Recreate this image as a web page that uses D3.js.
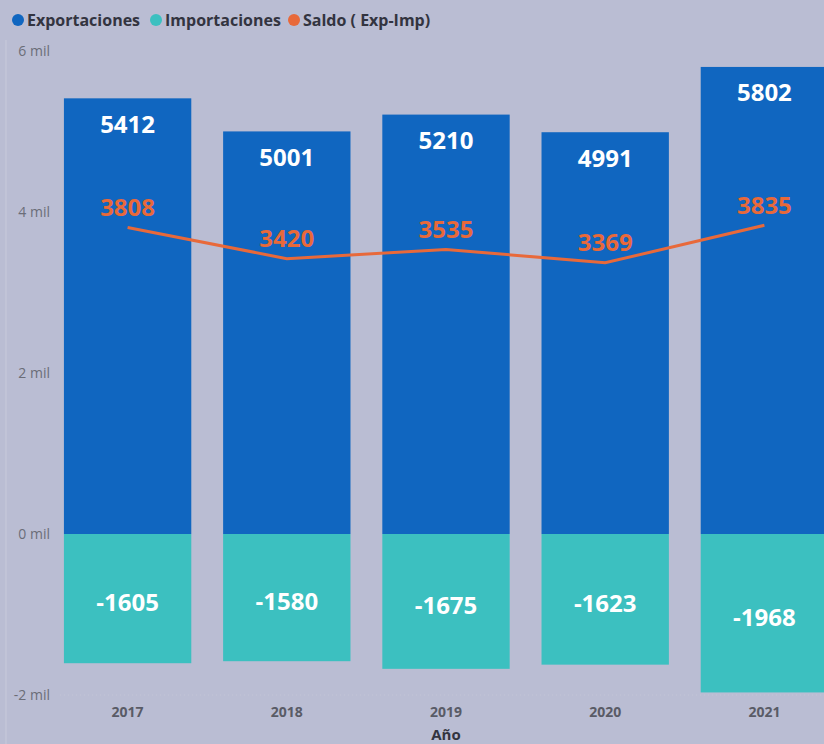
<!DOCTYPE html>
<html><head><meta charset="utf-8">
<script src="https://cdn.jsdelivr.net/npm/d3@7"></script>
<style>
html,body{margin:0;padding:0;background:#babdd3;}
svg{display:block;font-family:"Open Sans","Noto Sans",sans-serif;}
</style></head>
<body>
<svg id="chart" width="824" height="744"></svg>
<script>
const years = ["2017","2018","2019","2020","2021"];
const exportaciones = [5412, 5001, 5210, 4991, 5802];
const importaciones = [-1605, -1580, -1675, -1623, -1968];
const saldo = [3808, 3420, 3535, 3369, 3835];
const yTicks = [-2000, 0, 2000, 4000, 6000];
const legendItems = [
  {name:"Exportaciones", color:"#1066c0"},
  {name:"Importaciones", color:"#3cc0c0"},
  {name:"Saldo ( Exp-Imp)", color:"#e8693a"}
];

const svg = d3.select("#chart");
const x = d3.scaleBand().domain(years).range([48, 844]).paddingInner(0.2).paddingOuter(0.1);
const y = d3.scaleLinear().domain([-2000, 6000]).range([695, 51]);

// faint left line
svg.append("line").attr("x1",6).attr("x2",6).attr("y1",40).attr("y2",744)
  .attr("stroke","#c8cadb").attr("stroke-width",1);

// y tick labels
svg.append("g").selectAll("text").data(yTicks).join("text")
  .attr("x", 50).attr("y", d => y(d)).attr("dy","0.35em")
  .attr("text-anchor","end").attr("fill","#6b6d78").attr("font-size",14)
  .text(d => (d/1000) + " mil");

// dotted grid at -2 mil
svg.append("line").attr("x1",60).attr("x2",824).attr("y1",y(-2000)).attr("y2",y(-2000))
  .attr("stroke","#c3c5d6").attr("stroke-dasharray","1,3");

// export bars
svg.append("g").selectAll("rect").data(years).join("rect")
  .attr("x", d => x(d)).attr("width", x.bandwidth())
  .attr("y", (d,i) => y(exportaciones[i])).attr("height", (d,i) => y(0) - y(exportaciones[i]))
  .attr("fill", "#1066c0");

// import bars
svg.append("g").selectAll("rect").data(years).join("rect")
  .attr("x", d => x(d)).attr("width", x.bandwidth())
  .attr("y", y(0)).attr("height", (d,i) => y(importaciones[i]) - y(0))
  .attr("fill", "#3cc0c0");

// saldo line
const line = d3.line().x((d,i) => x(years[i]) + x.bandwidth()/2).y(d => y(d));
svg.append("path").datum(saldo).attr("d", line)
  .attr("fill","none").attr("stroke","#e8693a").attr("stroke-width",3);

// export labels
svg.append("g").selectAll("text").data(years).join("text")
  .attr("x", d => x(d) + x.bandwidth()/2)
  .attr("y", (d,i) => y(exportaciones[i]) + 26).attr("dy","0.35em")
  .attr("text-anchor","middle").attr("fill","#ffffff").attr("font-weight","bold").attr("font-size",24)
  .text((d,i) => exportaciones[i]);

// import labels
svg.append("g").selectAll("text").data(years).join("text")
  .attr("x", d => x(d) + x.bandwidth()/2)
  .attr("y", (d,i) => (y(0) + y(importaciones[i]))/2 + 4).attr("dy","0.35em")
  .attr("text-anchor","middle").attr("fill","#ffffff").attr("font-weight","bold").attr("font-size",24)
  .text((d,i) => importaciones[i]);

// saldo labels
svg.append("g").selectAll("text").data(years).join("text")
  .attr("x", d => x(d) + x.bandwidth()/2)
  .attr("y", (d,i) => y(saldo[i]) - 20).attr("dy","0.35em")
  .attr("text-anchor","middle").attr("fill","#e8693a").attr("font-weight","bold").attr("font-size",24)
  .text((d,i) => saldo[i]);

// x axis labels
svg.append("g").selectAll("text").data(years).join("text")
  .attr("x", d => x(d) + x.bandwidth()/2).attr("y", 712).attr("dy","0.35em")
  .attr("text-anchor","middle").attr("fill","#595b66").attr("font-weight","bold").attr("font-size",14)
  .text(d => d);

svg.append("text").attr("x", x("2019") + x.bandwidth()/2).attr("y", 735).attr("dy","0.35em")
  .attr("text-anchor","middle").attr("fill","#333440").attr("font-weight","bold").attr("font-size",15)
  .text("Año");

// legend
const legendX = [18, 156, 294];
const lg = svg.append("g").selectAll("g").data(legendItems).join("g")
  .attr("transform", (d,i) => `translate(${legendX[i]},20)`);
lg.append("circle").attr("r",6).attr("fill", d => d.color);
lg.append("text").attr("x",9).attr("dy","0.35em").attr("fill","#333440")
  .attr("font-weight","bold").attr("font-size",16).text(d => d.name);
</script>
</body></html>
